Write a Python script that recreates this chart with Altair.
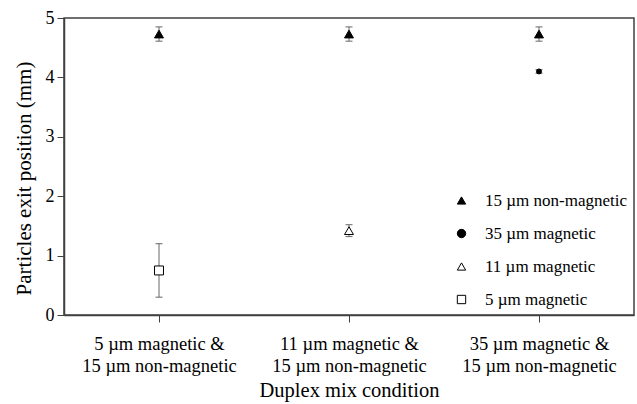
import altair as alt
import pandas as pd

conditions = [
    "5 µm magnetic &|15 µm non-magnetic",
    "11 µm magnetic &|15 µm non-magnetic",
    "35 µm magnetic &|15 µm non-magnetic",
]
series_order = ["15 µm non-magnetic", "35 µm magnetic", "11 µm magnetic", "5 µm magnetic"]
series_shapes = ["triangle-up", "circle", "triangle-up", "square"]
series_fills = ["black", "black", "white", "white"]
series_strokes = ["black", "black", "black", "black"]

point_condition = [conditions[0], conditions[1], conditions[2], conditions[0], conditions[1], conditions[2]]
point_series = ["15 µm non-magnetic"] * 3 + ["5 µm magnetic", "11 µm magnetic", "35 µm magnetic"]
point_mean = [4.73, 4.73, 4.73, 0.75, 1.42, 4.10]
point_err = [0.12, 0.12, 0.12, 0.45, 0.10, 0.03]

df = pd.DataFrame({
    "condition": point_condition,
    "series": point_series,
    "mean": point_mean,
    "err": point_err,
})
df["lo"] = df["mean"] - df["err"]
df["hi"] = df["mean"] + df["err"]

FONT = "Liberation Serif"
LINE = "#404040"
ERR = "#666666"

x_enc = alt.X(
    "condition:N",
    sort=conditions,
    scale=alt.Scale(type="point", padding=0.5),
    axis=alt.Axis(
        title="Duplex mix condition",
        labelExpr="split(datum.label, '|')",
        labelAngle=0,
        labelFont=FONT,
        titleFont=FONT,
        labelFontSize=18.5,
        labelLineHeight=22,
        labelPadding=12,
        labelLimit=300,
        tickSize=7,
        titleFontSize=20.5,
        titlePadding=6,
        titleFontWeight="normal",
        labelColor="black",
        titleColor="black",
    ),
)
y_scale = alt.Scale(domain=[0, 5], nice=False)
y_axis = alt.Axis(
    title="Particles exit position (mm)",
    values=[0, 1, 2, 3, 4, 5],
    format="d",
    labelFont=FONT,
    titleFont=FONT,
    labelFontSize=18,
    tickSize=7,
    labelPadding=3,
    titleFontSize=21,
    titleFontWeight="normal",
    titleBaseline="middle",
    titleX=-40,
    titleY=160,
    labelColor="black",
    titleColor="black",
)

base = alt.Chart(df)

bars = base.mark_rule(color=ERR, strokeWidth=1).encode(
    x=x_enc,
    y=alt.Y("lo:Q", scale=y_scale, axis=y_axis),
    y2="hi:Q",
)
cap_lo = base.mark_tick(color=ERR, thickness=1, size=7, opacity=1).encode(
    x=alt.X("condition:N", sort=conditions),
    y=alt.Y("lo:Q"),
)
cap_hi = base.mark_tick(color=ERR, thickness=1, size=7, opacity=1).encode(
    x=alt.X("condition:N", sort=conditions),
    y=alt.Y("hi:Q"),
)
leg = alt.Legend(
    title=None,
    orient="none",
    legendX=389,
    legendY=174,
    labelFont=FONT,
    labelFontSize=17,
    labelColor="black",
    labelLimit=300,
    symbolSize=70,
    symbolOpacity=1,
    symbolStrokeWidth=1,
    rowPadding=15,
    labelOffset=15,
)
points = base.mark_point(filled=True, strokeWidth=1, opacity=1).encode(
    x=alt.X("condition:N", sort=conditions),
    y=alt.Y("mean:Q"),
    shape=alt.Shape(
        "series:N",
        scale=alt.Scale(domain=series_order, range=series_shapes),
        legend=leg,
    ),
    fill=alt.Fill(
        "series:N",
        scale=alt.Scale(domain=series_order, range=series_fills),
        legend=leg,
    ),
    stroke=alt.Stroke(
        "series:N",
        scale=alt.Scale(domain=series_order, range=series_strokes),
        legend=leg,
    ),
    size=alt.condition(
        alt.datum.series == "35 µm magnetic", alt.value(25), alt.value(80)
    ),
)

chart = (
    alt.layer(bars, cap_lo, cap_hi, points)
    .properties(
        width=570,
        height=297,
        autosize=alt.AutoSizeParams(type="none"),
        padding={"left": 64, "top": 18, "right": 3, "bottom": 89},
        background="white",
    )
    .configure_view(stroke=LINE, strokeWidth=1.5)
    .configure_axis(
        grid=False,
        domainColor=LINE,
        domainWidth=1.5,
        tickColor=LINE,
        tickWidth=1,
    )
)

chart.save("out.html", embed_options={"renderer": "svg", "actions": False})
